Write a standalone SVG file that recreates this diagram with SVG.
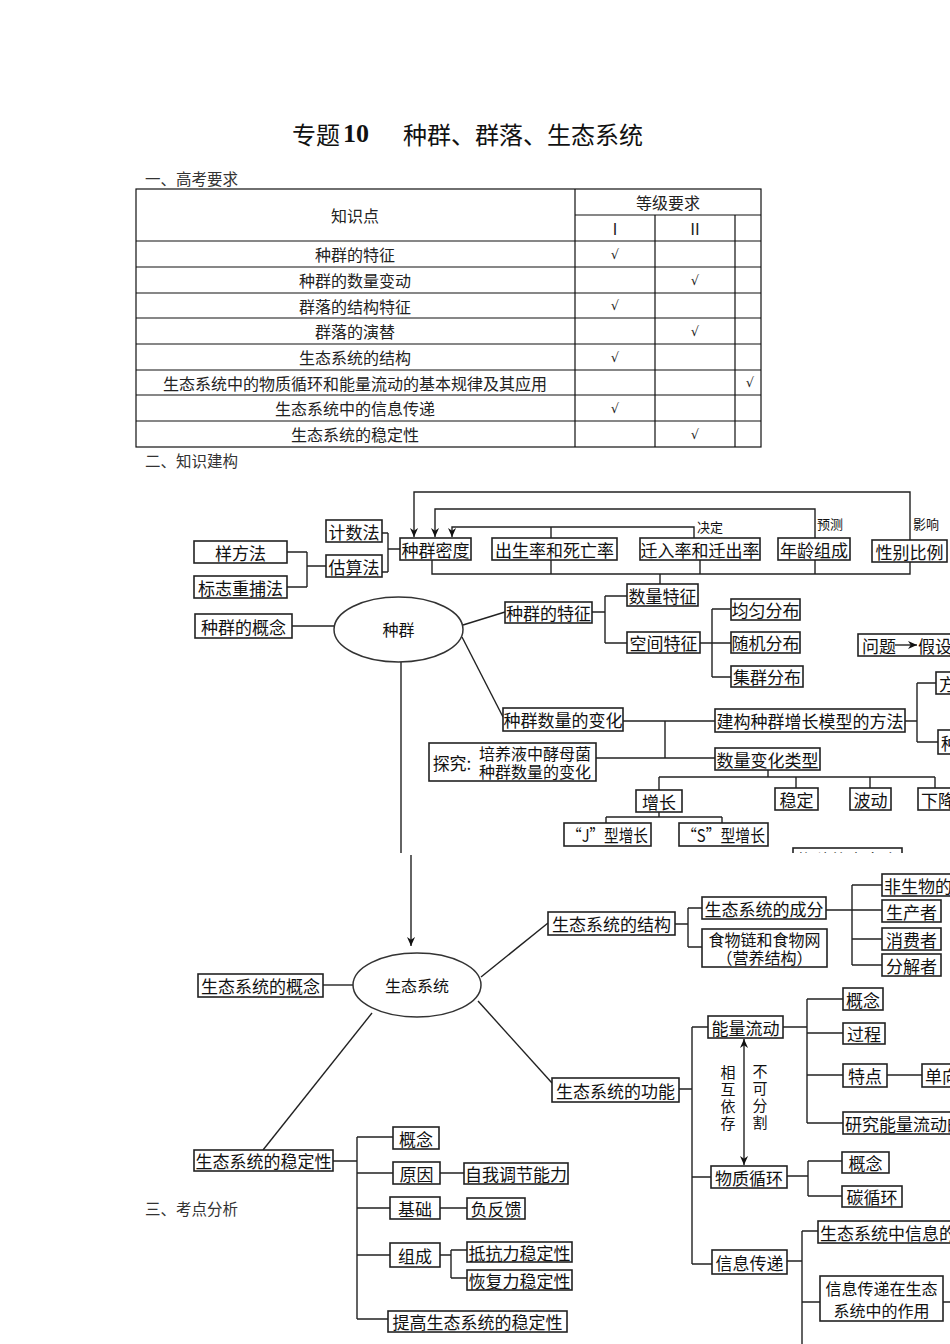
<svg xmlns="http://www.w3.org/2000/svg" width="950" height="1344" viewBox="0 0 950 1344">
<style>
.bg{fill:#fff}
.tb{fill:none;stroke:#111;stroke-width:1.2}
.tt{font-family:"Noto Sans CJK SC",sans-serif;font-size:16px;fill:#222;text-anchor:middle;dominant-baseline:central}
.hd{font-family:"Noto Sans CJK SC",sans-serif;font-size:15.5px;fill:#333;dominant-baseline:central}
.ck{font-family:"DejaVu Sans",sans-serif;font-size:13px;fill:#222;text-anchor:middle;dominant-baseline:central}
.b{fill:#fff;stroke:#222;stroke-width:1.6}
.e{fill:#fff;stroke:#333;stroke-width:1.5}
.t{font-family:"Noto Sans CJK SC",sans-serif;font-size:17px;fill:#111;text-anchor:middle;dominant-baseline:central}
.t2{font-family:"Noto Sans CJK SC",sans-serif;font-size:16px;fill:#111;text-anchor:middle;dominant-baseline:central}
.ts{font-family:"Noto Sans CJK SC",sans-serif;font-size:17px;fill:#111;dominant-baseline:central}
.tv{font-family:"Noto Sans CJK SC",sans-serif;font-size:15px;fill:#111;text-anchor:middle;dominant-baseline:central}
.lb{font-family:"Noto Sans CJK SC",sans-serif;font-size:13px;fill:#111;text-anchor:middle;dominant-baseline:central}
.l{fill:none;stroke:#222;stroke-width:1.4}
</style>
<defs>
<marker id="ah" viewBox="0 0 10 10" refX="10" refY="5" markerWidth="9" markerHeight="9" markerUnits="userSpaceOnUse" orient="auto">
<path d="M0,0.5 L10,5 L0,9.5 L3,5 z" fill="#111"/>
</marker>
<marker id="ahs" viewBox="0 0 10 10" refX="0" refY="5" markerWidth="9" markerHeight="9" markerUnits="userSpaceOnUse" orient="auto">
<path d="M10,0.5 L0,5 L10,9.5 L7,5 z" fill="#111"/>
</marker>
<clipPath id="cut"><rect x="0" y="0" width="950" height="853"/></clipPath>
</defs>
<rect class="bg" x="0" y="0" width="950" height="1344"/>

<!-- Title -->
<g id="title">
<text font-family="Noto Sans CJK SC, sans-serif" font-size="24" fill="#111" y="133" dominant-baseline="central"><tspan x="292">专题</tspan><tspan x="343" font-family="Liberation Serif, serif" font-weight="bold" font-size="26">10</tspan><tspan x="403">种群、群落、生态系统</tspan></text>
</g>

<text class="hd" x="145" y="178">一、高考要求</text>

<!-- Table -->
<g id="table">
<rect class="tb" x="136" y="189" width="625" height="258"/>
<path class="tb" d="M575 189V447M655 215V447M735 215V447M575 215H761M136 241H761M136 267H761M136 293H761M136 318H761M136 344H761M136 370H761M136 395H761M136 421H761"/>
<text class="tt" x="355" y="215">知识点</text>
<text class="tt" x="668" y="202">等级要求</text>
<text class="tt" x="615" y="228">Ⅰ</text>
<text class="tt" x="695" y="228">Ⅱ</text>
<text class="tt" x="355" y="254">种群的特征</text>
<text class="tt" x="355" y="280">种群的数量变动</text>
<text class="tt" x="355" y="305.5">群落的结构特征</text>
<text class="tt" x="355" y="331">群落的演替</text>
<text class="tt" x="355" y="357">生态系统的结构</text>
<text class="tt" x="355" y="382.5">生态系统中的物质循环和能量流动的基本规律及其应用</text>
<text class="tt" x="355" y="408">生态系统中的信息传递</text>
<text class="tt" x="355" y="434">生态系统的稳定性</text>
<text class="ck" x="615" y="254">√</text>
<text class="ck" x="695" y="280">√</text>
<text class="ck" x="615" y="305.5">√</text>
<text class="ck" x="695" y="331">√</text>
<text class="ck" x="615" y="357">√</text>
<text class="ck" x="750" y="382.5">√</text>
<text class="ck" x="615" y="408">√</text>
<text class="ck" x="695" y="434">√</text>
</g>

<text class="hd" x="145" y="460">二、知识建构</text>
<text class="hd" x="145" y="1208">三、考点分析</text>

<!-- Connectors -->
<g id="connectors">
<path class="l" d="M910 540V492H414V537" marker-end="url(#ah)"/>
<path class="l" d="M815 538V509H435V537" marker-end="url(#ah)"/>
<path class="l" d="M694 538V527H452V537" marker-end="url(#ah)"/>
<path class="l" d="M551 527V538"/>
<path class="l" d="M432 560V574H910V562M551 560V574M700 560V574M815 560V574M660 574V584"/>
<path class="l" d="M287 552H307M287 587H307M307 552V587M307 566H326"/>
<path class="l" d="M382 533H388M382 572H388M388 533V572M388 549H400"/>
<path class="l" d="M292 626H334"/>
<path class="l" d="M463 625L505 612"/>
<path class="l" d="M462 637L503 717"/>
<path class="l" d="M592 612H605M605 596V643M605 596H627M605 643H627"/>
<path class="l" d="M700 643H712M712 609V677M712 609H731M712 643H731M712 677H731"/>
<path class="l" d="M623 721H715M665 721V758M596 758H715"/>
<path class="l" d="M905 721H917M917 683V742M917 683H936M917 742H938"/>
<path class="l" d="M768 770V777M659 777H935M659 777V790M796 777V788M870 777V788M935 777V788"/>
<path class="l" d="M659 812V817M606 817H722M606 817V823M722 817V823"/>
<path class="l" d="M401 662V853"/>
<path class="l" d="M411 855V946" marker-end="url(#ah)"/>
<path class="l" d="M323 985H353"/>
<path class="l" d="M481 977L548 923"/>
<path class="l" d="M675 924H688M688 908V947M688 908H702M688 947H702"/>
<path class="l" d="M826 910H882M852 885V965M852 885H882M852 939H882M852 965H882"/>
<path class="l" d="M478 1001L552 1083"/>
<path class="l" d="M679 1089H692M692 1027V1264M692 1027H708M692 1177H711M692 1264H712"/>
<path class="l" d="M744 1039V1165" marker-start="url(#ahs)" marker-end="url(#ah)"/>
<path class="l" d="M783 1027H807M807 999V1123M807 999H843M807 1033H843M807 1075H843M807 1123H843"/>
<path class="l" d="M887 1075H922"/>
<path class="l" d="M787 1176H808M808 1161V1196M808 1161H842M808 1196H842"/>
<path class="l" d="M787 1261H802M802 1231V1344M802 1231H818M802 1302H820M943 1302H950"/>
<path class="l" d="M372 1013L263 1150"/>
<path class="l" d="M333 1161H357M357 1137V1319M357 1137H393M357 1173H393M357 1208H390M357 1255H390M357 1319H388"/>
<path class="l" d="M440 1173H464M440 1208H467"/>
<path class="l" d="M440 1255H451M451 1250V1278M451 1250H467M451 1278H467"/>
</g>

<!-- Population part -->
<g id="n_midu"><rect class="b" x="400" y="538" width="71" height="22"/><text class="t" x="435.5" y="549">种群密度</text></g>
<g id="n_chusheng"><rect class="b" x="492" y="538" width="125" height="22"/><text class="t" x="554.5" y="549">出生率和死亡率</text></g>
<g id="n_qianru"><rect class="b" x="640" y="538" width="120" height="22"/><text class="t" x="700" y="549">迁入率和迁出率</text></g>
<g id="n_nianling"><rect class="b" x="778" y="538" width="72" height="22"/><text class="t" x="814" y="549">年龄组成</text></g>
<g id="n_xingbie"><rect class="b" x="872" y="540" width="75" height="22"/><text class="t" x="909.5" y="551">性别比例</text></g>
<g id="lbl_top"><text class="lb" x="710" y="526">决定</text><text class="lb" x="830" y="523">预测</text><text class="lb" x="926" y="523">影响</text></g>
<g id="n_jishu"><rect class="b" x="326" y="520" width="56" height="22"/><text class="t" x="354" y="531">计数法</text></g>
<g id="n_gusuan"><rect class="b" x="326" y="555" width="56" height="22"/><text class="t" x="354" y="566">估算法</text></g>
<g id="n_yangfang"><rect class="b" x="194" y="541" width="93" height="22"/><text class="t" x="240.5" y="552">样方法</text></g>
<g id="n_biaozhi"><rect class="b" x="194" y="576" width="93" height="22"/><text class="t" x="240.5" y="587">标志重捕法</text></g>
<g id="n_zhongqun"><ellipse class="e" cx="398.5" cy="629.5" rx="64.5" ry="32.5"/><text class="t" x="398.5" y="629" style="font-size:16px">种群</text></g>
<g id="n_gainian1"><rect class="b" x="195" y="614" width="97" height="24"/><text class="t" x="243.5" y="626">种群的概念</text></g>
<g id="n_tezheng"><rect class="b" x="505" y="602" width="87" height="21"/><text class="t" x="548.5" y="612.5">种群的特征</text></g>
<g id="n_shuliangtz"><rect class="b" x="627" y="584" width="71" height="22"/><text class="t" x="662.5" y="595">数量特征</text></g>
<g id="n_kongjian"><rect class="b" x="627" y="632" width="73" height="21"/><text class="t" x="663.5" y="642.5">空间特征</text></g>
<g id="n_junyun"><rect class="b" x="731" y="599" width="69" height="21"/><text class="t" x="765.5" y="609.5">均匀分布</text></g>
<g id="n_suiji"><rect class="b" x="731" y="632" width="69" height="21"/><text class="t" x="765.5" y="642.5">随机分布</text></g>
<g id="n_jiqun"><rect class="b" x="731" y="666" width="72" height="21"/><text class="t" x="767" y="676.5">集群分布</text></g>
<g id="n_wenti"><rect class="b" x="858" y="634" width="100" height="22"/><text class="ts" x="862" y="645">问题</text><path class="l" d="M895 645H917" marker-end="url(#ah)"/><text class="ts" x="918" y="645">假设</text></g>
<g id="n_fang"><rect class="b" x="936" y="672" width="30" height="22"/><text class="ts" x="939" y="683">方</text></g>
<g id="n_zhong2"><rect class="b" x="938" y="730" width="30" height="24"/><text class="ts" x="941" y="742">种</text></g>
<g id="n_bianhua"><rect class="b" x="503" y="708" width="120" height="23"/><text class="t" x="563" y="719.5">种群数量的变化</text></g>
<g id="n_jiangou"><rect class="b" x="715" y="709" width="190" height="23"/><text class="t" x="810" y="720.5">建构种群增长模型的方法</text></g>
<g id="n_tanjiu"><rect class="b" x="429" y="743" width="167" height="38"/><text class="t" x="452" y="762">探究:</text><text class="t2" x="535" y="753">培养液中酵母菌</text><text class="t2" x="535" y="771">种群数量的变化</text></g>
<g id="n_leixing"><rect class="b" x="715" y="748" width="105" height="22"/><text class="t" x="767.5" y="759">数量变化类型</text></g>
<g id="n_zengzhang"><rect class="b" x="636" y="790" width="46" height="22"/><text class="t" x="659" y="801">增长</text></g>
<g id="n_wending"><rect class="b" x="775" y="788" width="43" height="22"/><text class="t" x="796.5" y="799">稳定</text></g>
<g id="n_bodong"><rect class="b" x="850" y="788" width="41" height="22"/><text class="t" x="870.5" y="799">波动</text></g>
<g id="n_xiajiang"><rect class="b" x="918" y="788" width="45" height="22"/><text class="ts" x="921" y="799">下降</text></g>
<g id="n_J"><rect class="b" x="564" y="823" width="87" height="23"/><text class="t" x="607.5" y="834.5" textLength="81" lengthAdjust="spacingAndGlyphs">“J”型增长</text></g>
<g id="n_S"><rect class="b" x="679" y="823" width="89" height="23"/><text class="t" x="723.5" y="834.5" textLength="83" lengthAdjust="spacingAndGlyphs">“S”型增长</text></g>
<g id="n_fengfu" clip-path="url(#cut)"><rect class="b" x="793" y="848" width="109" height="22"/><text class="t" x="847.5" y="859">物种的丰富度</text></g>

<!-- Ecosystem part -->
<g id="n_stxt"><ellipse class="e" cx="417" cy="985" rx="64" ry="32"/><text class="t" x="417" y="985" style="font-size:16px">生态系统</text></g>
<g id="n_gainian2"><rect class="b" x="198" y="974" width="125" height="23"/><text class="t" x="260.5" y="985.5">生态系统的概念</text></g>
<g id="n_jiegou"><rect class="b" x="548" y="912" width="127" height="23"/><text class="t" x="611.5" y="923.5">生态系统的结构</text></g>
<g id="n_chengfen"><rect class="b" x="702" y="897" width="124" height="22"/><text class="t" x="764" y="908">生态系统的成分</text></g>
<g id="n_shiwulian"><rect class="b" x="702" y="929" width="125" height="38"/><text class="t2" x="764.5" y="939">食物链和食物网</text><text class="t2" x="764.5" y="957">（营养结构）</text></g>
<g id="n_feishengwu"><rect class="b" x="882" y="874" width="75" height="22"/><text class="ts" x="884" y="885">非生物的</text></g>
<g id="n_shengchan"><rect class="b" x="882" y="900" width="59" height="22"/><text class="t" x="911.5" y="911">生产者</text></g>
<g id="n_xiaofei"><rect class="b" x="882" y="928" width="59" height="22"/><text class="t" x="911.5" y="939">消费者</text></g>
<g id="n_fenjie"><rect class="b" x="882" y="954" width="59" height="22"/><text class="t" x="911.5" y="965">分解者</text></g>
<g id="n_gongneng"><rect class="b" x="552" y="1078" width="127" height="24"/><text class="t" x="615.5" y="1090">生态系统的功能</text></g>
<g id="n_nengliang"><rect class="b" x="708" y="1016" width="75" height="22"/><text class="t" x="745.5" y="1027">能量流动</text></g>
<g id="lbl_v">
<text class="tv" x="728" y="1071">相</text><text class="tv" x="728" y="1088">互</text><text class="tv" x="728" y="1105">依</text><text class="tv" x="728" y="1122">存</text>
<text class="tv" x="760" y="1070">不</text><text class="tv" x="760" y="1087">可</text><text class="tv" x="760" y="1104">分</text><text class="tv" x="760" y="1121">割</text>
</g>
<g id="n_gainian3"><rect class="b" x="843" y="988" width="40" height="22"/><text class="t" x="863" y="999">概念</text></g>
<g id="n_guocheng"><rect class="b" x="843" y="1023" width="42" height="21"/><text class="t" x="864" y="1033.5">过程</text></g>
<g id="n_tedian"><rect class="b" x="843" y="1064" width="44" height="23"/><text class="t" x="865" y="1075.5">特点</text></g>
<g id="n_danxiang"><rect class="b" x="922" y="1064" width="40" height="23"/><text class="ts" x="925" y="1075.5">单向</text></g>
<g id="n_yanjiu"><rect class="b" x="843" y="1112" width="120" height="22"/><text class="ts" x="845" y="1123">研究能量流动的</text></g>
<g id="n_wuzhi"><rect class="b" x="711" y="1166" width="76" height="22"/><text class="t" x="749" y="1177">物质循环</text></g>
<g id="n_gainian4"><rect class="b" x="842" y="1152" width="47" height="21"/><text class="t" x="865.5" y="1162.5">概念</text></g>
<g id="n_tanxunhuan"><rect class="b" x="842" y="1186" width="60" height="21"/><text class="t" x="872" y="1196.5">碳循环</text></g>
<g id="n_xinxi"><rect class="b" x="712" y="1250" width="75" height="24"/><text class="t" x="749.5" y="1262">信息传递</text></g>
<g id="n_xinxizhonglei"><rect class="b" x="818" y="1221" width="140" height="22"/><text class="ts" x="820" y="1232">生态系统中信息的</text></g>
<g id="n_xinxizuoyong"><rect class="b" x="820" y="1276" width="123" height="45"/><text class="t2" x="881.5" y="1287.5">信息传递在生态</text><text class="t2" x="881.5" y="1310">系统中的作用</text></g>
<g id="n_wendingxing"><rect class="b" x="194" y="1150" width="139" height="21"/><text class="t" x="263.5" y="1160.5">生态系统的稳定性</text></g>
<g id="n_gainian5"><rect class="b" x="393" y="1127" width="46" height="22"/><text class="t" x="416" y="1138">概念</text></g>
<g id="n_yuanyin"><rect class="b" x="393" y="1162" width="47" height="22"/><text class="t" x="416.5" y="1173">原因</text></g>
<g id="n_ziwo"><rect class="b" x="464" y="1163" width="104" height="21"/><text class="t" x="516" y="1173.5">自我调节能力</text></g>
<g id="n_jichu"><rect class="b" x="390" y="1197" width="50" height="22"/><text class="t" x="415" y="1208">基础</text></g>
<g id="n_fufankui"><rect class="b" x="467" y="1198" width="58" height="21"/><text class="t" x="496" y="1208.5">负反馈</text></g>
<g id="n_zucheng"><rect class="b" x="390" y="1243" width="50" height="24"/><text class="t" x="415" y="1255">组成</text></g>
<g id="n_dikang"><rect class="b" x="467" y="1242" width="105" height="20"/><text class="t" x="519.5" y="1252">抵抗力稳定性</text></g>
<g id="n_huifu"><rect class="b" x="467" y="1270" width="105" height="20"/><text class="t" x="519.5" y="1280">恢复力稳定性</text></g>
<g id="n_tigao"><rect class="b" x="388" y="1311" width="179" height="21"/><text class="t" x="477.5" y="1321.5">提高生态系统的稳定性</text></g>
</svg>
